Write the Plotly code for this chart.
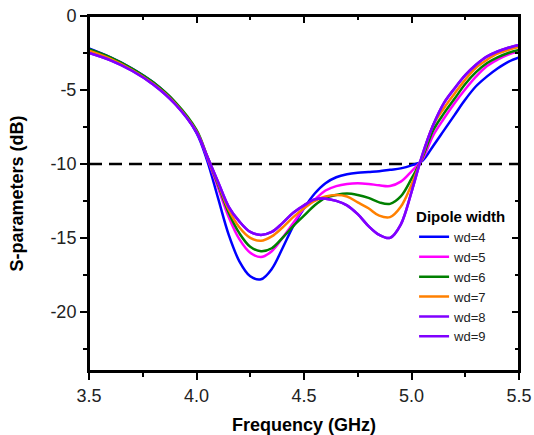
import plotly.graph_objects as go

freq = [3.5, 3.6, 3.7, 3.8, 3.9, 4.0, 4.05, 4.1, 4.15, 4.2, 4.25, 4.3, 4.35, 4.4, 4.45, 4.5,
        4.55, 4.6, 4.65, 4.7, 4.75, 4.8, 4.85, 4.9, 4.95, 5.0, 5.05, 5.1, 5.15, 5.2, 5.25, 5.3,
        5.35, 5.4, 5.45, 5.5]

wd4 = [-2.2, -2.8, -3.55, -4.5, -5.85, -7.9, -9.8, -12.3, -14.8, -16.6, -17.6, -17.8, -17.1, -15.7, -14.2, -13.0,
       -12.0, -11.3, -10.9, -10.7, -10.6, -10.55, -10.5, -10.4, -10.3, -10.1, -9.8, -8.8, -7.75, -6.7, -5.65, -4.75,
       -4.1, -3.55, -3.1, -2.8]
wd5 = [-2.3, -2.85, -3.6, -4.55, -5.85, -7.8, -9.6, -11.6, -13.6, -15.1, -16.0, -16.3, -15.9, -15.0, -14.0, -13.0,
       -12.4, -11.8, -11.5, -11.35, -11.3, -11.35, -11.45, -11.5, -11.2, -10.5, -9.7, -8.1, -6.95, -5.9, -4.95, -4.1,
       -3.4, -2.95, -2.6, -2.4]
wd6 = [-2.25, -2.8, -3.55, -4.5, -5.8, -7.7, -9.5, -11.4, -13.3, -14.7, -15.6, -15.9, -15.7, -15.0, -14.2, -13.5,
       -12.8, -12.3, -12.1, -12.0, -12.1, -12.3, -12.6, -12.7, -12.2, -11.0, -9.6, -7.75, -6.6, -5.6, -4.6, -3.8,
       -3.2, -2.8, -2.5, -2.3]
wd7 = [-2.35, -2.9, -3.65, -4.6, -5.9, -7.8, -9.5, -11.3, -13.1, -14.3, -15.0, -15.2, -14.9, -14.3, -13.6, -13.0,
       -12.5, -12.2, -12.1, -12.2, -12.6, -13.0, -13.5, -13.6, -12.9, -11.4, -9.5, -7.4, -6.25, -5.25, -4.3, -3.5,
       -2.97, -2.55, -2.3, -2.1]
wd8 = [-2.5, -3.0, -3.7, -4.65, -5.95, -7.85, -9.5, -11.2, -12.9, -13.9, -14.6, -14.8, -14.6, -14.0, -13.3, -12.8,
       -12.4, -12.35, -12.5, -12.8, -13.4, -14.2, -14.8, -15.0, -14.1, -11.9, -9.4, -7.4, -5.9, -4.9, -4.0, -3.3,
       -2.75, -2.4, -2.15, -1.96]
wd9 = [-2.5, -3.0, -3.7, -4.65, -5.95, -7.85, -9.5, -11.2, -12.9, -13.9, -14.6, -14.8, -14.6, -14.0, -13.3, -12.8,
       -12.4, -12.35, -12.5, -12.8, -13.4, -14.2, -14.8, -15.0, -14.1, -11.9, -9.4, -7.4, -5.9, -4.9, -4.0, -3.3,
       -2.75, -2.4, -2.15, -1.96]

series_names = ["wd=4", "wd=5", "wd=6", "wd=7", "wd=8", "wd=9"]
series_values = [wd4, wd5, wd6, wd7, wd8, wd9]
colors = ["#0000FF", "#FF00FF", "#008000", "#FF8000", "#8000FF", "#8000FF"]

threshold = -10
x_range = [3.5, 5.5]
y_range = [-24, 0]
x_ticks = [3.5, 4.0, 4.5, 5.0, 5.5]
x_ticklabels = ["3.5", "4.0", "4.5", "5.0", "5.5"]
y_ticks = [0, -5, -10, -15, -20]
y_ticklabels = ["0", "-5", "-10", "-15", "-20"]

FONT = "Liberation Sans, Arial, sans-serif"

fig = go.Figure()
for name, vals, col in zip(series_names, series_values, colors):
    fig.add_trace(go.Scatter(x=freq, y=vals, mode="lines", name=name,
                             line=dict(color=col, width=2.5, shape="spline", smoothing=1.0)))

# invisible trace so the mirrored (top/right) axes are drawn
fig.add_trace(go.Scatter(x=[None], y=[None], xaxis="x2", yaxis="y2", showlegend=False,
                         hoverinfo="skip", mode="lines"))

fig.add_shape(type="line", xref="x", yref="y", x0=x_range[0], x1=x_range[1], y0=threshold, y1=threshold,
              line=dict(color="black", width=2.5, dash="13px,7px"), layer="below")
# plot frame
fig.add_shape(type="rect", xref="paper", yref="paper", x0=0, x1=1, y0=0, y1=1,
              line=dict(color="black", width=2), layer="above")

axis_common = dict(showgrid=False, zeroline=False, showline=True, linecolor="black", linewidth=2,
                   tickcolor="black", tickwidth=2, ticklen=7, automargin=False,
                   tickfont=dict(family=FONT, size=18, color="#222"))
minor_out = dict(ticks="outside", ticklen=4, tickwidth=2, tickcolor="black")
minor_in = dict(ticks="inside", ticklen=4, tickwidth=2, tickcolor="black")

fig.update_layout(
    width=534, height=435,
    margin=dict(l=89, r=15, t=16, b=64),
    paper_bgcolor="white", plot_bgcolor="white",
    font=dict(family=FONT, color="black"),
    xaxis=dict(range=x_range, tickvals=x_ticks, ticktext=x_ticklabels, ticks="outside",
               minor=dict(dtick=0.25, tick0=3.5, **minor_out),
               title=dict(text="<b>Frequency (GHz)</b>", font=dict(family=FONT, size=18), standoff=14),
               **axis_common),
    yaxis=dict(range=y_range, tickvals=y_ticks, ticktext=y_ticklabels, ticks="outside",
               minor=dict(dtick=2.5, tick0=0, **minor_out),
               title=dict(text="<b>S-parameters (dB)</b>", font=dict(family=FONT, size=18), standoff=22),
               **axis_common),
    xaxis2=dict(range=x_range, overlaying="x", side="top", anchor="y2", tickvals=x_ticks, ticks="inside",
                showticklabels=False, minor=dict(dtick=0.25, tick0=3.5, **minor_in),
                **axis_common),
    yaxis2=dict(range=y_range, overlaying="y", side="right", anchor="x2", tickvals=y_ticks, ticks="inside",
                showticklabels=False, minor=dict(dtick=2.5, tick0=0, **minor_in),
                **axis_common),
    legend=dict(x=0.756, y=0.475, xanchor="left", yanchor="top", bgcolor="rgba(0,0,0,0)",
                font=dict(family=FONT, size=13, color="#222"),
                title=dict(text="<b>Dipole width</b>", font=dict(family=FONT, size=15, color="black")),
                tracegroupgap=0, itemwidth=30),
    showlegend=True,
)

fig.write_html("out.html", config={"displayModeBar": False},
               post_script="document.body.style.margin='0';document.body.style.padding='0';")
